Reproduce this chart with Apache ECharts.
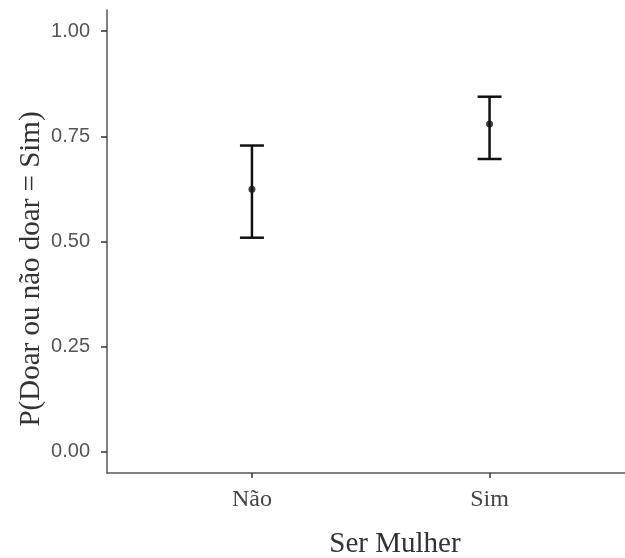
<!DOCTYPE html>
<html><head>
<meta charset="UTF-8">
<title>P(Doar)</title>
<script src="https://cdn.jsdelivr.net/npm/echarts@6/dist/echarts.min.js"></script>
<style>html,body{margin:0;padding:0;background:#fff;}</style>
</head>
<body>
<div id="chart" style="width:625px;height:558px;"></div>
<script>
// dados
var categorias = ['Não', 'Sim'];
var posicoes = [1, 2];
var media = [0.624, 0.779];
var inferior = [0.509, 0.696];
var superior = [0.728, 0.844];
var yTicks = [0, 0.25, 0.5, 0.75, 1];

var barras = [];
var pontos = [];
for (var i = 0; i < categorias.length; i++) {
    barras.push([posicoes[i], inferior[i], superior[i]]);
    pontos.push([posicoes[i], media[i]]);
}

var chart = echarts.init(document.getElementById('chart'));
chart.setOption({
    animation: false,
    grid: {left: 107, right: 0, top: 10, bottom: 85, outerBoundsMode: 'none'},
    xAxis: {
        type: 'value', min: 0.39, max: 2.57,
        name: 'Ser Mulher', nameLocation: 'middle', nameGap: 57, nameMoveOverlap: false,
        nameTextStyle: {fontFamily: 'Liberation Serif', fontSize: 29, color: '#333', padding: [0, 0, 0, 58]},
        axisLine: {show: true, onZero: false, lineStyle: {color: '#555', width: 1.5}},
        axisTick: {show: true, customValues: posicoes, length: 5, lineStyle: {color: '#333', width: 1.5}},
        axisLabel: {customValues: posicoes, margin: 15, fontFamily: 'Liberation Serif', fontSize: 24, color: '#444',
            formatter: function (v) { return categorias[posicoes.indexOf(v)] || ''; }},
        splitLine: {show: false}
    },
    yAxis: {
        type: 'value', min: -0.05, max: 1.05,
        name: 'P(Doar ou não doar = Sim)', nameLocation: 'middle', nameGap: 61, nameMoveOverlap: false,
        nameTextStyle: {fontFamily: 'Liberation Serif', fontSize: 29, color: '#333', padding: [0, 55, 0, 0]},
        axisLine: {show: true, onZero: false, lineStyle: {color: '#555', width: 1.5}},
        axisTick: {show: true, customValues: yTicks, length: 6, lineStyle: {color: '#333', width: 1.5}},
        axisLabel: {customValues: yTicks, margin: 17, fontFamily: 'Liberation Sans', fontSize: 20, color: '#555',
            formatter: function (v) { return v.toFixed(2); }},
        splitLine: {show: false}
    },
    series: [{
        type: 'custom',
        data: barras,
        renderItem: function (params, api) {
            var x = api.value(0);
            var lo = api.coord([x, api.value(1)]);
            var hi = api.coord([x, api.value(2)]);
            var w = 12;
            var st = {stroke: '#111', lineWidth: 2.5, fill: null};
            return {type: 'group', children: [
                {type: 'line', shape: {x1: lo[0], y1: lo[1], x2: hi[0], y2: hi[1]}, style: st},
                {type: 'line', shape: {x1: lo[0] - w, y1: lo[1], x2: lo[0] + w, y2: lo[1]}, style: st},
                {type: 'line', shape: {x1: hi[0] - w, y1: hi[1], x2: hi[0] + w, y2: hi[1]}, style: st}
            ]};
        }
    }, {
        type: 'scatter',
        data: pontos,
        symbolSize: 7,
        itemStyle: {color: '#111'}
    }]
});
</script>
</body></html>
